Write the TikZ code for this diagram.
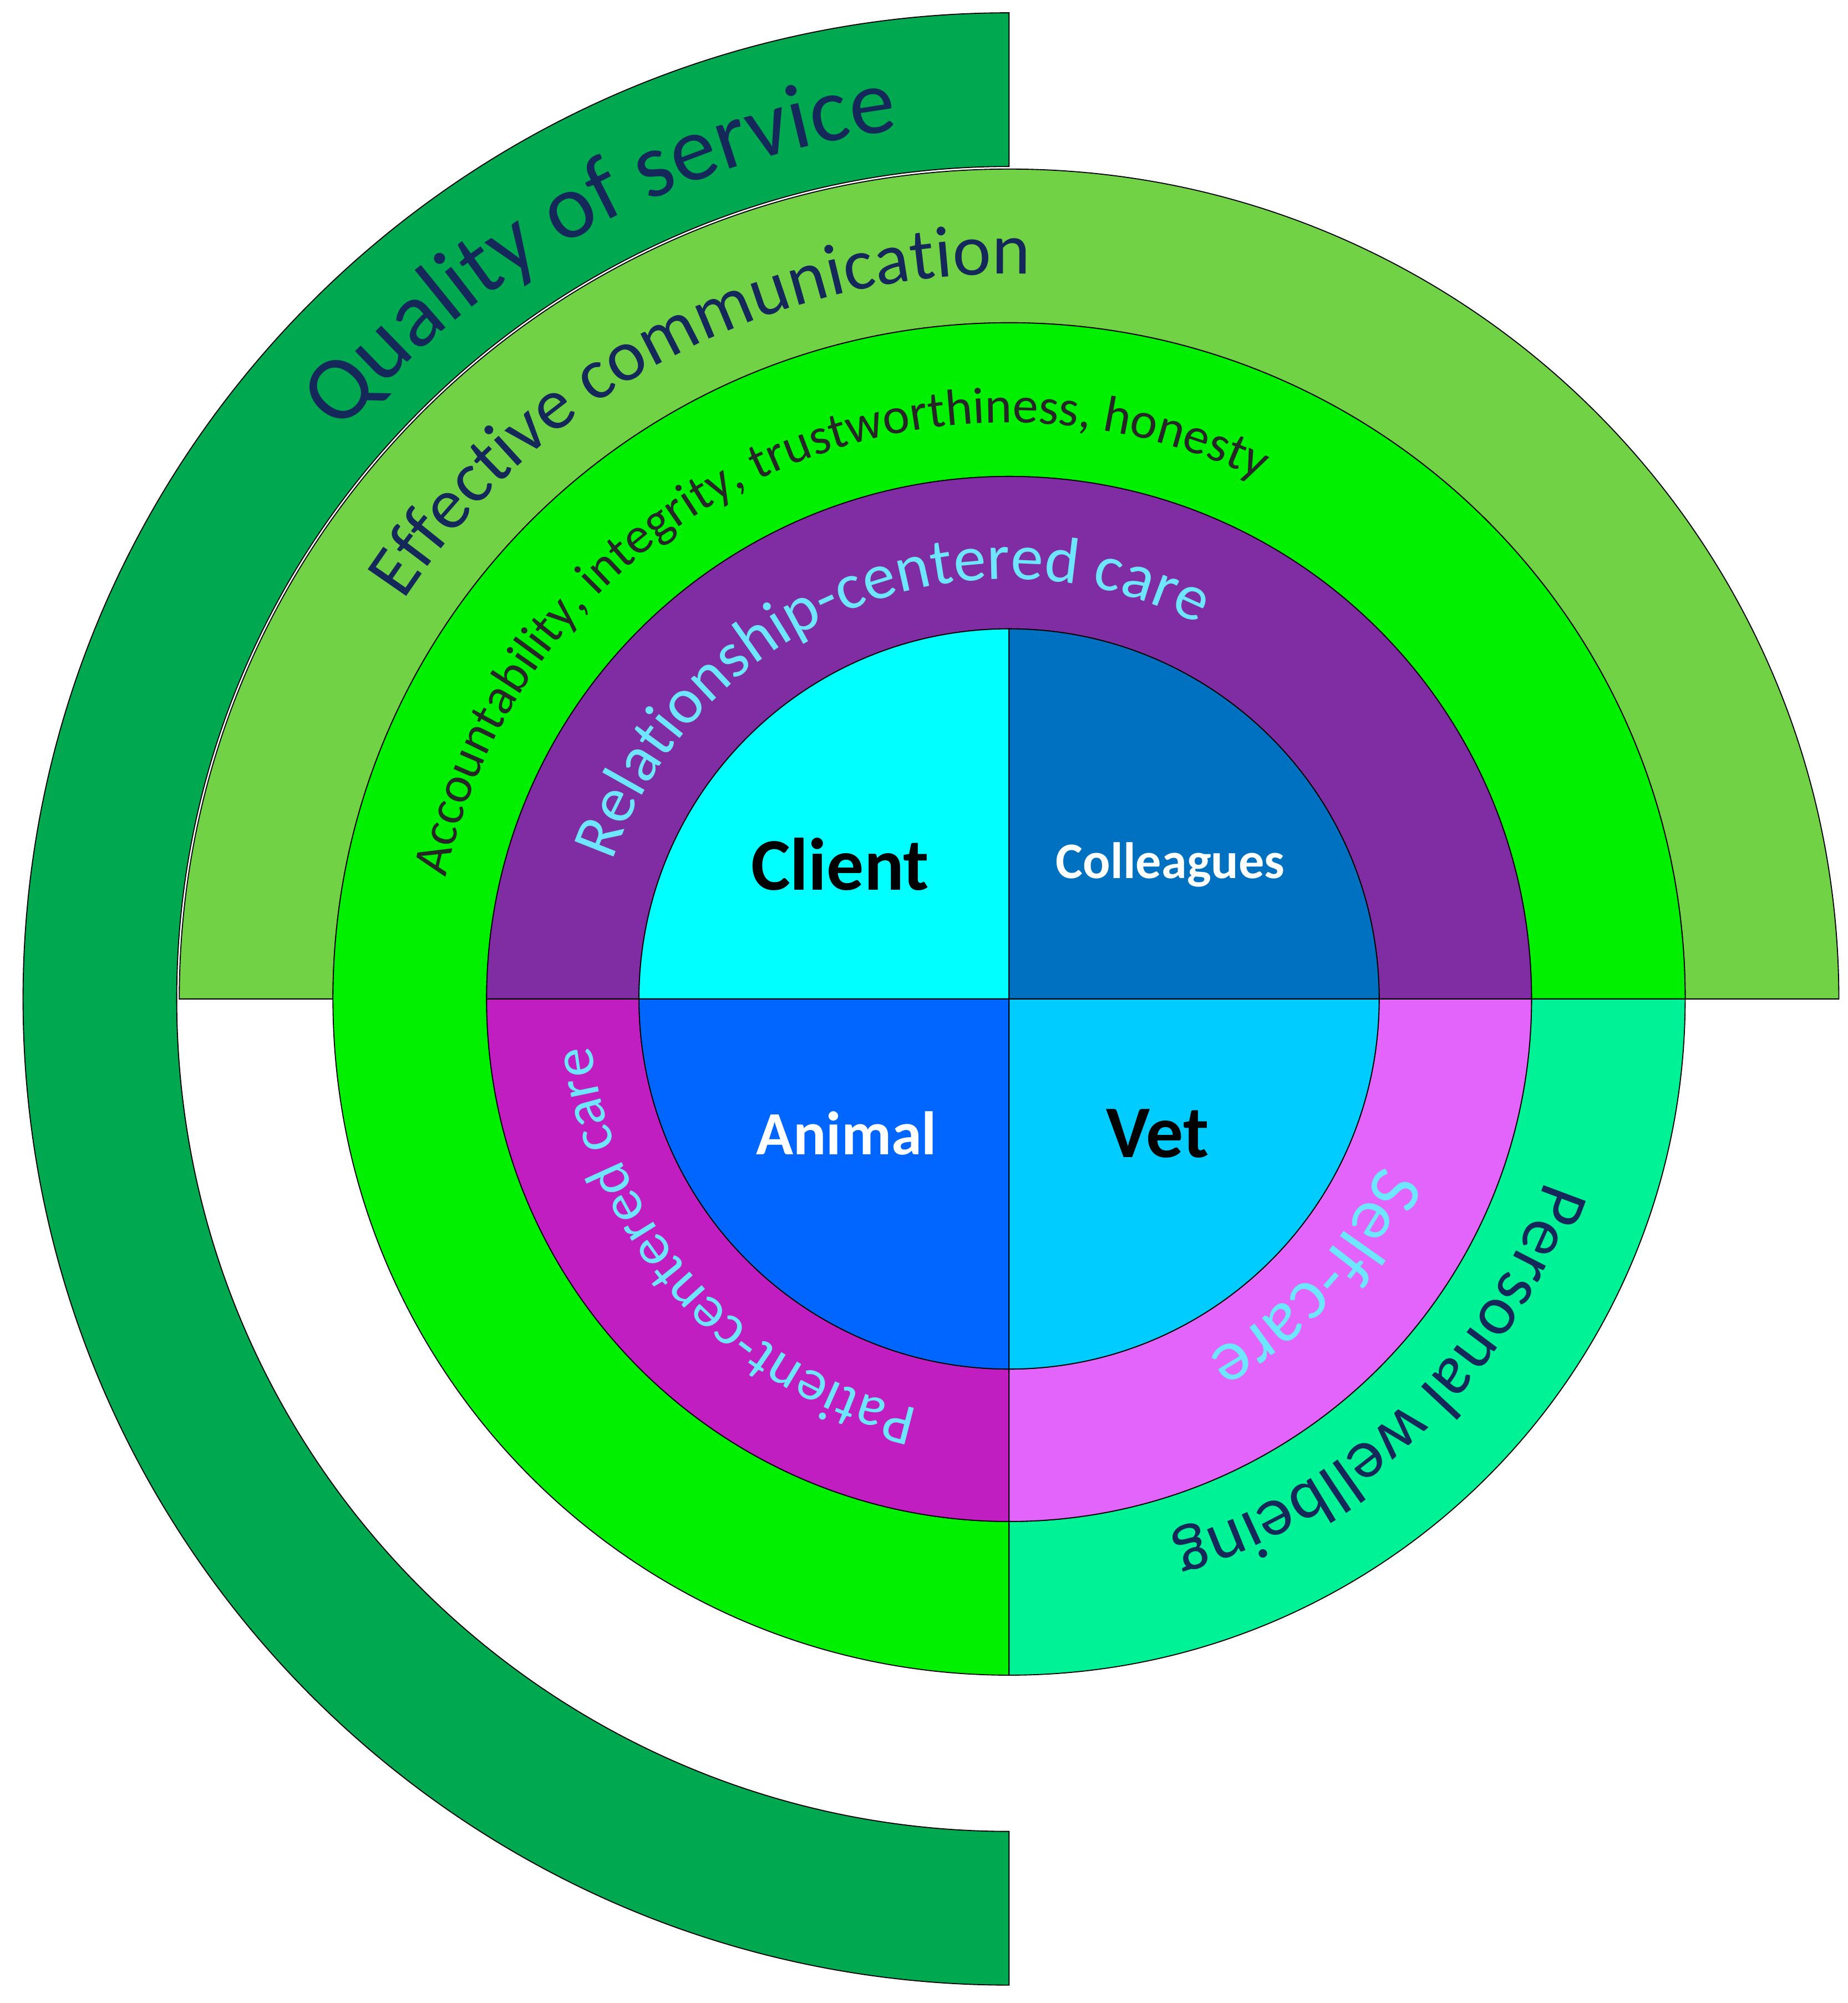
\documentclass[tikz,border=0pt]{standalone}
\usepackage{fontspec}
\setmainfont{Carlito}
\usetikzlibrary{decorations.text}
\definecolor{cQual}{RGB}{0,168,80}
\definecolor{cEff}{RGB}{114,210,70}
\definecolor{cAcc}{RGB}{0,240,0}
\definecolor{cWell}{RGB}{0,242,150}
\definecolor{cRel}{RGB}{128,44,162}
\definecolor{cPat}{RGB}{192,30,192}
\definecolor{cSelf}{RGB}{226,100,250}
\definecolor{cClient}{RGB}{0,255,255}
\definecolor{cColl}{RGB}{0,112,192}
\definecolor{cAnim}{RGB}{0,102,255}
\definecolor{cVet}{RGB}{0,204,255}
\definecolor{navy}{RGB}{20,40,90}
\definecolor{lcyan}{RGB}{110,230,255}
\newcommand{\sector}[5]{\filldraw[fill=#5,draw=black,line width=0.8pt] (#1:#4) arc[start angle=#1,end angle=#2,radius=#4] -- (#2:#3) arc[start angle=#2,end angle=#1,radius=#3] -- cycle;}
\newcommand{\pie}[4]{\filldraw[fill=#4,draw=black,line width=0.8pt] (0,0) -- (#1:#3) arc[start angle=#1,end angle=#2,radius=#3] -- cycle;}
\tikzset{arctext/.style={decorate,decoration={text along path,text align=center,text={#1}}}}
\begin{document}
\begin{tikzpicture}[x=1pt,y=1pt]
\useasboundingbox (0,0) rectangle (1443,-1564);
\begin{scope}[shift={(788,-780)}]
\sector{90}{270}{650}{770}{cQual}
\sector{0}{180}{528}{648}{cEff}
\sector{0}{270}{408}{528}{cAcc}
\sector{270}{360}{408}{528}{cWell}
\sector{0}{180}{289}{408}{cRel}
\sector{180}{270}{289}{408}{cPat}
\sector{270}{360}{289}{408}{cSelf}
\pie{90}{180}{289}{cClient}
\pie{0}{90}{289}{cColl}
\pie{180}{270}{289}{cAnim}
\pie{270}{360}{289}{cVet}
% curved labels
\path[arctext={|\fontsize{72}{72}\selectfont\color{navy}|Quality of service}] (145:684) arc[start angle=145,end angle=92,radius=684];
\path[arctext={|\fontsize{57}{57}\selectfont\color{navy}|Effective communication}] (155:566) arc[start angle=155,end angle=80,radius=566];
\path[arctext={|\fontsize{40}{40}\selectfont\color{black!85}|Accountability, integrity, trustworthiness, honesty}] (176:450) arc[start angle=176,end angle=56,radius=450];
\path[arctext={|\fontsize{51}{51}\selectfont\color{lcyan}|Relationship-centered care}] (168:328) arc[start angle=168,end angle=56,radius=328];
\path[arctext={|\fontsize{46}{46}\selectfont\color{lcyan}|Patient-centered care}] (266:328) arc[start angle=266,end angle=178,radius=328];
\path[arctext={|\fontsize{58}{58}\selectfont\color{lcyan}|Self-care}] (345:318) arc[start angle=345,end angle=290,radius=318];
\path[arctext={|\fontsize{55}{55}\selectfont\color{navy}|Personal wellbeing}] (352:442) arc[start angle=352,end angle=276,radius=442];
% centre labels
\node[font=\fontsize{58}{58}\selectfont\bfseries] (client) at (-132,105) {Client};
\node[font=\fontsize{40}{40}\selectfont\bfseries,text=white] (coll) at (126,105) {Colleagues};
\node[font=\fontsize{48}{48}\selectfont\bfseries,text=white] (animal) at (-127,-105) {Animal};
\node[font=\fontsize{58}{58}\selectfont\bfseries] (vet) at (116,-105) {Vet};
\end{scope}
\end{tikzpicture}
\end{document}
